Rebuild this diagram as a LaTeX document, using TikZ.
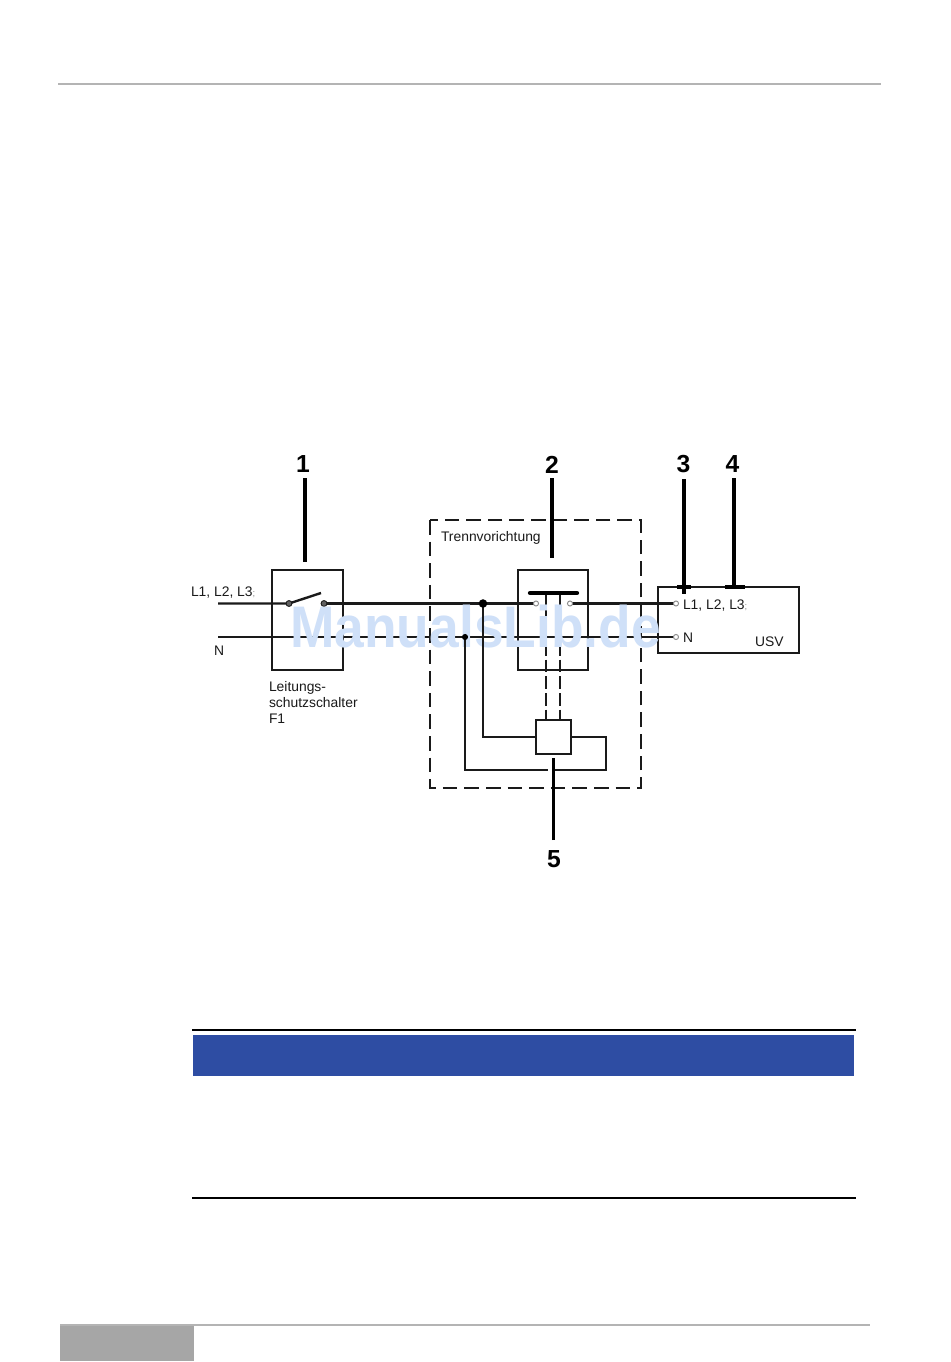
\documentclass[tikz,border=0pt]{standalone}
\usepackage{graphicx}
\usepackage{fontspec}
\setmainfont{Liberation Sans}
\definecolor{wm}{HTML}{CFE0F8}
\definecolor{band}{HTML}{2E4DA3}
\definecolor{rulegrey}{HTML}{B4B4B4}
\definecolor{tabgrey}{HTML}{A6A6A6}
\definecolor{ink}{HTML}{1A1A1A}
\definecolor{pin}{HTML}{8A8A8A}
\tikzset{
  box/.style={draw=ink,line width=1.7pt,inner sep=0pt,outer sep=0pt},
  monbox/.style={draw=ink,line width=2pt,inner sep=0pt,outer sep=0pt},
  wire/.style={draw=ink,line width=1.8pt},
  thinwire/.style={draw=ink,line width=1.5pt},
  leader/.style={draw=black,line width=2.6pt},
  fence/.style={draw=ink,line width=1.9pt,dash pattern=on 11pt off 5.2pt},
  linkdash/.style={draw=ink,line width=1.8pt,dash pattern=on 9.5pt off 3pt},
  lbl/.style={anchor=base west,inner sep=0pt,outer sep=0pt,text=ink,font=\fontsize{10.4}{12}\selectfont},
  num/.style={inner sep=0pt,outer sep=0pt,text=black,font=\bfseries\fontsize{18.5}{18}\selectfont},
  dot/.style={circle,fill=black,inner sep=0pt},
  ring/.style={circle,draw=pin,fill=white,line width=0.7pt,minimum size=3.8pt,inner sep=0pt},
  pivot/.style={circle,draw=ink,fill=ink!70,line width=0.7pt,minimum size=4.4pt,inner sep=0pt},
  edgerule/.style={draw=black,line width=1.5pt}
}
\begin{document}
\begin{tikzpicture}[x=0.75pt,y=-0.75pt]
\useasboundingbox (0,0) rectangle (950,1362);
% page furniture
\fill[white] (0,0) rectangle (950,1362);
\draw[rulegrey,line width=1.4pt] (58,84) -- (881,84);
\draw[rulegrey,line width=1.2pt] (60,1325) -- (870,1325);
\fill[tabgrey] (60,1326) rectangle (194,1361);
\fill[band] (193,1035) rectangle (854,1076);
\draw[edgerule] (192,1030) -- (856,1030);
\draw[edgerule] (192,1198) -- (856,1198);
% boxes
\path[fence] (430,520) rectangle (641,788);
\node[box,minimum width=53.25pt,minimum height=75pt,anchor=north west] (f1) at (272,570) {};
\node[box,minimum width=52.5pt,minimum height=75pt,anchor=north west] (sep) at (518,570) {};
\node[monbox,minimum width=26.25pt,minimum height=25.5pt,anchor=north west] (mon) at (536,720) {};
\node[box,minimum width=105.75pt,minimum height=49.5pt,anchor=north west] (usv) at (658,587) {};
% terminals
\coordinate (l1in) at (218,603.5);
\coordinate (nin) at (218,637);
\coordinate (lever) at (321,593);
\coordinate (barL) at (530,593);
\coordinate (barR) at (577,593);
\coordinate (d1) at (546,593);
\coordinate (d2) at (560,593);
\coordinate (j1) at (483,603.5);
\coordinate (j2) at (465,637);
% wires
\path[wire] (l1in) -- (289,603.5) -- (lever);
\path[wire] (324,603.5) -- (j1) -- (536,603.5);
\path[wire] (570,603.5) -- (676,603.5);
\path[wire] (nin) -- (j2) -- (676,637);
\path[thinwire] (555,770) -| (606,737) -- (mon.east);
\path[linkdash] (d1) -- (d1 |- mon.north);
\path[linkdash] (d2) -- (d2 |- mon.north);
\draw[draw=black,line width=3.2pt,line cap=round] (barL) -- (barR);
\node[pivot] (p1) at (289,603.5) {};
\node[pivot] (p2) at (324,603.5) {};
\node[ring] (s1) at (536,603.5) {};
\node[ring] (s2) at (570,603.5) {};
\node[ring] (u1) at (676,603.5) {};
\node[ring] (u2) at (676,637) {};
% leaders
\coordinate (t1) at (305,478);
\coordinate (t2) at (552,478);
\coordinate (t3) at (684,479);
\coordinate (t4) at (734,478);
\coordinate (t5) at (553.5,840);
\path[leader] (t1) -- (305,562);
\path[leader] (t2) -- (552,558);
\path[leader] (t3) -- (684,594);
\path[leader] (t4) -- (734,587);
\path[leader] (t5) -- (553.5,758);
\draw[black,line width=2.4pt] (677,587) -- (691,587);
\draw[black,line width=2.4pt] (725,587) -- (745,587);
% numbers
\node[num] (n1) at (303,464.5) {1};
\node[num] (n2) at (552,464.5) {2};
\node[num] (n3) at (683.5,464.5) {3};
\node[num] (n4) at (732.5,464.5) {4};
\node[num] (n5) at (554,859.5) {5};
% labels
\node[lbl] (a1) at (191,596) {L1, L2, L3\textcolor{pin}{\fontsize{7}{7}\selectfont ;}};
\node[lbl] (a2) at (214,655) {N};
\node[lbl] (a3) at (269,691) {Leitungs-};
\node[lbl] (a4) at (269,707) {schutzschalter};
\node[lbl] (a5) at (269,723) {F1};
\node[lbl] (a6) at (441,541) {Trennvorichtung};
\node[lbl] (a7) at (683,609) {L1, L2, L3\textcolor{pin}{\fontsize{7}{7}\selectfont ;}};
\node[lbl] (a8) at (683,642) {N};
\node[lbl] (a9) at (755,646) {USV};
% watermark
\node[anchor=base west,inner sep=0pt,text=wm,font=\bfseries\fontsize{40}{40}\selectfont] (wm) at (290,647) {\scalebox{1}[1.1]{ManualsLib.de}};
% branches that show past the watermark
\path[wire] (j1) |- (mon.west);
\path[thinwire] (j2) |- (548,770);
\node[dot,minimum size=6.4pt] (jd1) at (j1) {};
\node[dot,minimum size=4.6pt] (jd2) at (j2) {};
\end{tikzpicture}
\end{document}
